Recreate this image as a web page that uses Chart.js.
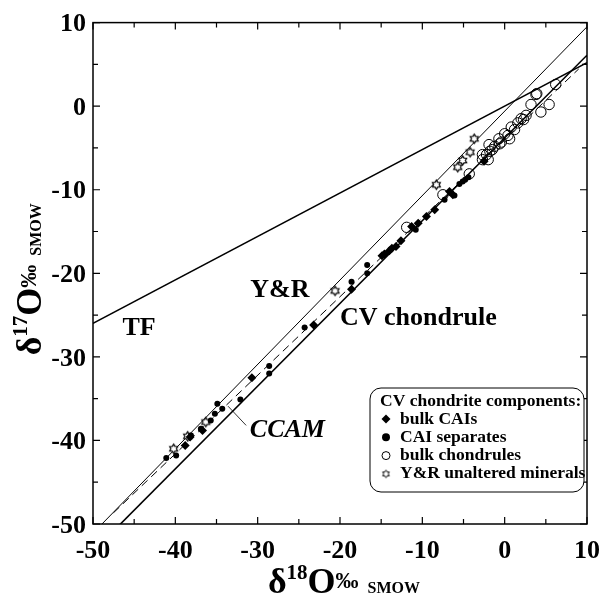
<!DOCTYPE html>
<html>
<head>
<meta charset="utf-8">
<script src="https://cdn.jsdelivr.net/npm/chart.js@4.4.0/dist/chart.umd.min.js"></script>
<style>
html, body { margin: 0; padding: 0; background: #fff; }
#wrap { width: 612px; height: 597px; }
</style>
</head>
<body>
<div id="wrap"><canvas id="grafico" width="612" height="597"></canvas></div>
<script>
// ******* DADOS *******
var eixoMin = -50;
var eixoMax = 10;
var eixoTicks = [-50, -40, -30, -20, -10, 0, 10];

// bulk CAIs (losangos)
var bulkCaiX = [-6.3, -6.7, -8.5, -9.5, -10.5, -11.3, -12.6, -13.2, -13.7, -14.0, -14.6, -14.9, -18.6, -23.2, -30.7, -36.7, -38.2, -38.8, -2.5];
var bulkCaiY = [-10.6, -10.2, -12.4, -13.2, -14.0, -14.4, -16.1, -16.8, -17.0, -17.3, -17.7, -17.9, -21.9, -26.2, -32.5, -38.8, -39.6, -40.6, -6.6];

// CAI separates (circulos cheios)
var caiSepX = [-16.7, -16.7, -18.6, -24.3, -10.8, -7.3, -5.5, -5.1, -4.4, -4.8, -6.1, -34.9, -34.3, -32.1, -28.6, -28.6, -35.7, -35.2, -36.9, -39.9, -41.1, -38.1];
var caiSepY = [-19.0, -20.0, -21.0, -26.5, -14.8, -11.2, -9.3, -9.0, -8.5, -8.8, -10.7, -35.6, -36.2, -35.1, -32.0, -31.1, -37.6, -36.8, -38.6, -41.8, -42.1, -39.4];

// bulk chondrules (circulos abertos)
var chondruleX = [3.8, 3.9, 3.2, 4.4, 5.4, 6.2, 2.6, 2.0, 0.8, 0.0, -0.7, -2.7, -4.3, -7.5, 0.6, -11.9, -2.2, -1.8, -1.2, -0.4, 0.4, 1.2, 1.6, 2.3, -2.0, -1.5, -0.6, -1.9, -2.7];
var chondruleY = [1.4, 1.5, 0.2, -0.7, 0.2, 2.6, -1.1, -1.5, -2.5, -3.3, -3.9, -6.4, -8.1, -10.6, -3.9, -14.5, -5.8, -5.4, -4.8, -4.3, -3.5, -2.8, -2.0, -1.6, -6.4, -5.2, -4.5, -4.6, -5.8];

// Y&R unaltered minerals (estrelas)
var yrX = [-40.2, -38.5, -36.3, -20.6, -8.3, -5.7, -5.1, -4.2, -3.7];
var yrY = [-41.0, -39.5, -37.8, -22.1, -9.4, -7.3, -6.5, -5.5, -3.9];

// retas de referencia: d17O = a * d18O + b
var retaNomes = ["TF", "Y&R", "CV chondrule", "CCAM"];
var retaInclinacao = [0.52, 1.01, 0.99, 0.94];
var retaIntercepto = [0.0, -0.6, -3.8, -4.0];
var retaXInicio = [-50, -50, -50, -47.5];
var retaXFim = [10, 10, 10, 9];

var FONTE = "'Liberation Serif', 'Times New Roman', serif";

//******* MÉTODOS *******
function MontarPontos(xs, ys) {
    return xs.map(function (x, i) { return { x: x, y: ys[i] }; });
}

function MontarReta(i) {
    return [
        { x: retaXInicio[i], y: retaInclinacao[i] * retaXInicio[i] + retaIntercepto[i] },
        { x: retaXFim[i], y: retaInclinacao[i] * retaXFim[i] + retaIntercepto[i] }
    ];
}

function CriarEstrela(r, lw) {
    var c = document.createElement("canvas");
    var s = Math.ceil(r * 2 + 3);
    c.width = s; c.height = s;
    var g = c.getContext("2d");
    g.beginPath();
    for (var i = 0; i < 12; i++) {
        var a = -Math.PI / 2 + i * Math.PI / 6;
        var rr = (i % 2) ? r * 0.6 : r;
        g.lineTo(s / 2 + rr * Math.cos(a), s / 2 + rr * Math.sin(a));
    }
    g.closePath();
    g.fillStyle = "#fff";
    g.fill();
    g.strokeStyle = "#000";
    g.lineWidth = lw;
    g.stroke();
    return c;
}

var _estrela = CriarEstrela(4.6, 1.2);
var _estrelaLegenda = CriarEstrela(3.8, 1);

function TextoComposto(ctx, partes, x, y) {
    var total = 0;
    partes.forEach(function (p) {
        ctx.font = "bold " + p.size + "px " + FONTE;
        p.w = ctx.measureText(p.t).width;
        total += p.w + (p.gap || 0);
    });
    var cx = x - total / 2;
    partes.forEach(function (p) {
        cx += (p.gap || 0);
        ctx.font = "bold " + p.size + "px " + FONTE;
        ctx.fillText(p.t, cx, y - (p.dy || 0));
        cx += p.w;
    });
}

function DesenharMarcador(ctx, ds, x, y) {
    ctx.save();
    if (ds.pointStyle === "rectRot") {
        ctx.beginPath();
        ctx.moveTo(x - 4.5, y); ctx.lineTo(x, y - 4.5); ctx.lineTo(x + 4.5, y); ctx.lineTo(x, y + 4.5);
        ctx.closePath();
        ctx.fillStyle = "#000"; ctx.fill();
    } else if (ds.pointStyle === "circle") {
        ctx.beginPath();
        ctx.arc(x, y, ds.legendRadius, 0, Math.PI * 2);
        if (ds.aberto) {
            ctx.strokeStyle = "#000"; ctx.lineWidth = 1; ctx.stroke();
        } else {
            ctx.fillStyle = "#000"; ctx.fill();
        }
    } else {
        ctx.drawImage(_estrelaLegenda, x - _estrelaLegenda.width / 2, y - _estrelaLegenda.height / 2);
    }
    ctx.restore();
}

//******* PLUGINS *******
var pluginMoldura = {
    id: "moldura",
    afterDatasetsDraw: function (chart) {
        var ctx = chart.ctx;
        var a = chart.chartArea;
        var sx = chart.scales.x, sy = chart.scales.y;
        ctx.save();
        ctx.strokeStyle = "#000";
        ctx.lineWidth = 1.5;
        ctx.strokeRect(a.left, a.top, a.right - a.left, a.bottom - a.top);
        ctx.lineWidth = 1.2;
        ctx.beginPath();
        for (var v = eixoMin; v <= eixoMax; v += 5) {
            var len = (v % 10 === 0) ? 7 : 5;
            var px = sx.getPixelForValue(v);
            var py = sy.getPixelForValue(v);
            ctx.moveTo(px, a.bottom); ctx.lineTo(px, a.bottom - len);
            ctx.moveTo(px, a.top); ctx.lineTo(px, a.top + len);
            ctx.moveTo(a.left, py); ctx.lineTo(a.left + len, py);
            ctx.moveTo(a.right, py); ctx.lineTo(a.right - len, py);
        }
        ctx.stroke();
        ctx.restore();
    }
};

var pluginTextos = {
    id: "textos",
    afterDraw: function (chart) {
        var ctx = chart.ctx;
        var a = chart.chartArea;
        var sx = chart.scales.x, sy = chart.scales.y;
        ctx.save();
        ctx.fillStyle = "#000";
        ctx.textBaseline = "middle";

        // rotulos das retas
        ctx.font = "bold 26px " + FONTE;
        ctx.textAlign = "center";
        ctx.fillText("TF", sx.getPixelForValue(-44.4), sy.getPixelForValue(-26.6));
        ctx.fillText("Y&R", sx.getPixelForValue(-27.3), sy.getPixelForValue(-22.0));
        ctx.textAlign = "left";
        ctx.fillText("CV chondrule", sx.getPixelForValue(-20.0), sy.getPixelForValue(-25.4));
        ctx.font = "italic bold 26px " + FONTE;
        ctx.fillText("CCAM", sx.getPixelForValue(-30.95), sy.getPixelForValue(-38.8));

        // linha guia do CCAM
        ctx.lineWidth = 0.8;
        ctx.beginPath();
        ctx.moveTo(sx.getPixelForValue(-33.6), sy.getPixelForValue(-35.9));
        ctx.lineTo(sx.getPixelForValue(-31.4), sy.getPixelForValue(-38.2));
        ctx.stroke();

        // titulos dos eixos
        ctx.textAlign = "left";
        ctx.textBaseline = "alphabetic";
        var partesX = [
            { t: "\u03B4", size: 36 },
            { t: "18", size: 21, dy: 14 },
            { t: "O", size: 36 },
            { t: "\u2030", size: 23, dy: 5 },
            { t: "SMOW", size: 16, gap: 9 }
        ];
        TextoComposto(ctx, partesX, (a.left + a.right) / 2 + 4, 593);

        var partesY = [
            { t: "\u03B4", size: 36 },
            { t: "17", size: 21, dy: 14 },
            { t: "O", size: 36 },
            { t: "\u2030", size: 23, dy: 5 },
            { t: "SMOW", size: 16, gap: 9 }
        ];
        ctx.translate(41, (a.top + a.bottom) / 2 + 6);
        ctx.rotate(-Math.PI / 2);
        TextoComposto(ctx, partesY, 0, 0);
        ctx.restore();

        // legenda
        ctx.save();
        var bx = 370, by = 388, bw = 214, bh = 104, r = 11;
        ctx.beginPath();
        ctx.moveTo(bx + r, by);
        ctx.arcTo(bx + bw, by, bx + bw, by + bh, r);
        ctx.arcTo(bx + bw, by + bh, bx, by + bh, r);
        ctx.arcTo(bx, by + bh, bx, by, r);
        ctx.arcTo(bx, by, bx + bw, by, r);
        ctx.closePath();
        ctx.fillStyle = "#fff";
        ctx.fill();
        ctx.strokeStyle = "#000";
        ctx.lineWidth = 1;
        ctx.stroke();

        ctx.fillStyle = "#000";
        ctx.textBaseline = "middle";
        ctx.textAlign = "left";
        ctx.font = "bold 17.5px " + FONTE;
        ctx.fillText("CV chondrite components:", 380, 401);
        var itens = chart.data.datasets.filter(function (d) { return d.naLegenda; });
        itens.forEach(function (ds, i) {
            var yy = 419 + i * 18.3;
            DesenharMarcador(ctx, ds, 386, yy);
            ctx.fillText(ds.label, 400, yy);
        });
        ctx.restore();
    }
};

//******* GRAFICO *******
var datasets = [
    {
        label: "bulk CAIs", naLegenda: true, order: 0,
        data: MontarPontos(bulkCaiX, bulkCaiY),
        pointStyle: "rectRot", pointRadius: 4.5, pointBackgroundColor: "#000", pointBorderColor: "#000", pointBorderWidth: 0,
        showLine: false
    },
    {
        label: "CAI separates", naLegenda: true, order: 0, legendRadius: 4,
        data: MontarPontos(caiSepX, caiSepY),
        pointStyle: "circle", pointRadius: 3, pointBackgroundColor: "#000", pointBorderColor: "#000", pointBorderWidth: 0,
        showLine: false
    },
    {
        label: "bulk chondrules", naLegenda: true, order: 0, aberto: true, legendRadius: 4,
        data: MontarPontos(chondruleX, chondruleY),
        pointStyle: "circle", pointRadius: 5.2, pointBackgroundColor: "rgba(0,0,0,0)", pointBorderColor: "#000", pointBorderWidth: 1,
        showLine: false
    },
    {
        label: "Y&R unaltered minerals", naLegenda: true, order: 0,
        data: MontarPontos(yrX, yrY),
        pointStyle: _estrela, pointRadius: 4,
        showLine: false
    }
];

var estilosRetas = [
    { width: 1.5, dash: [] },
    { width: 1, dash: [] },
    { width: 1.6, dash: [] },
    { width: 1, dash: [8, 5] }
];

retaNomes.forEach(function (nome, i) {
    datasets.push({
        label: nome, order: 1,
        data: MontarReta(i),
        showLine: true,
        borderColor: "#000",
        borderWidth: estilosRetas[i].width,
        borderDash: estilosRetas[i].dash,
        pointRadius: 0,
        fill: false
    });
});

var fonteTick = { family: FONTE, size: 26, weight: "bold" };

var grafico = new Chart(document.getElementById("grafico"), {
    type: "scatter",
    data: { datasets: datasets },
    options: {
        responsive: false,
        animation: false,
        devicePixelRatio: 1,
        layout: { padding: { left: 0, right: 15, top: 20, bottom: 0 } },
        plugins: { legend: { display: false }, tooltip: { enabled: false } },
        scales: {
            x: {
                type: "linear", min: eixoMin, max: eixoMax,
                afterFit: function (scale) { scale.height = 73; },
                afterBuildTicks: function (scale) { scale.ticks = eixoTicks.map(function (v) { return { value: v }; }); },
                grid: { display: false, drawTicks: false },
                border: { display: false },
                ticks: { color: "#000", font: fonteTick, padding: 12, maxRotation: 0, autoSkip: false }
            },
            y: {
                type: "linear", min: eixoMin, max: eixoMax,
                afterFit: function (scale) { scale.width = 93; },
                afterBuildTicks: function (scale) { scale.ticks = eixoTicks.map(function (v) { return { value: v }; }); },
                grid: { display: false, drawTicks: false },
                border: { display: false },
                ticks: { color: "#000", font: fonteTick, padding: 7, autoSkip: false, labelOffset: 2 }
            }
        }
    },
    plugins: [pluginMoldura, pluginTextos]
});
</script>
</body>
</html>
